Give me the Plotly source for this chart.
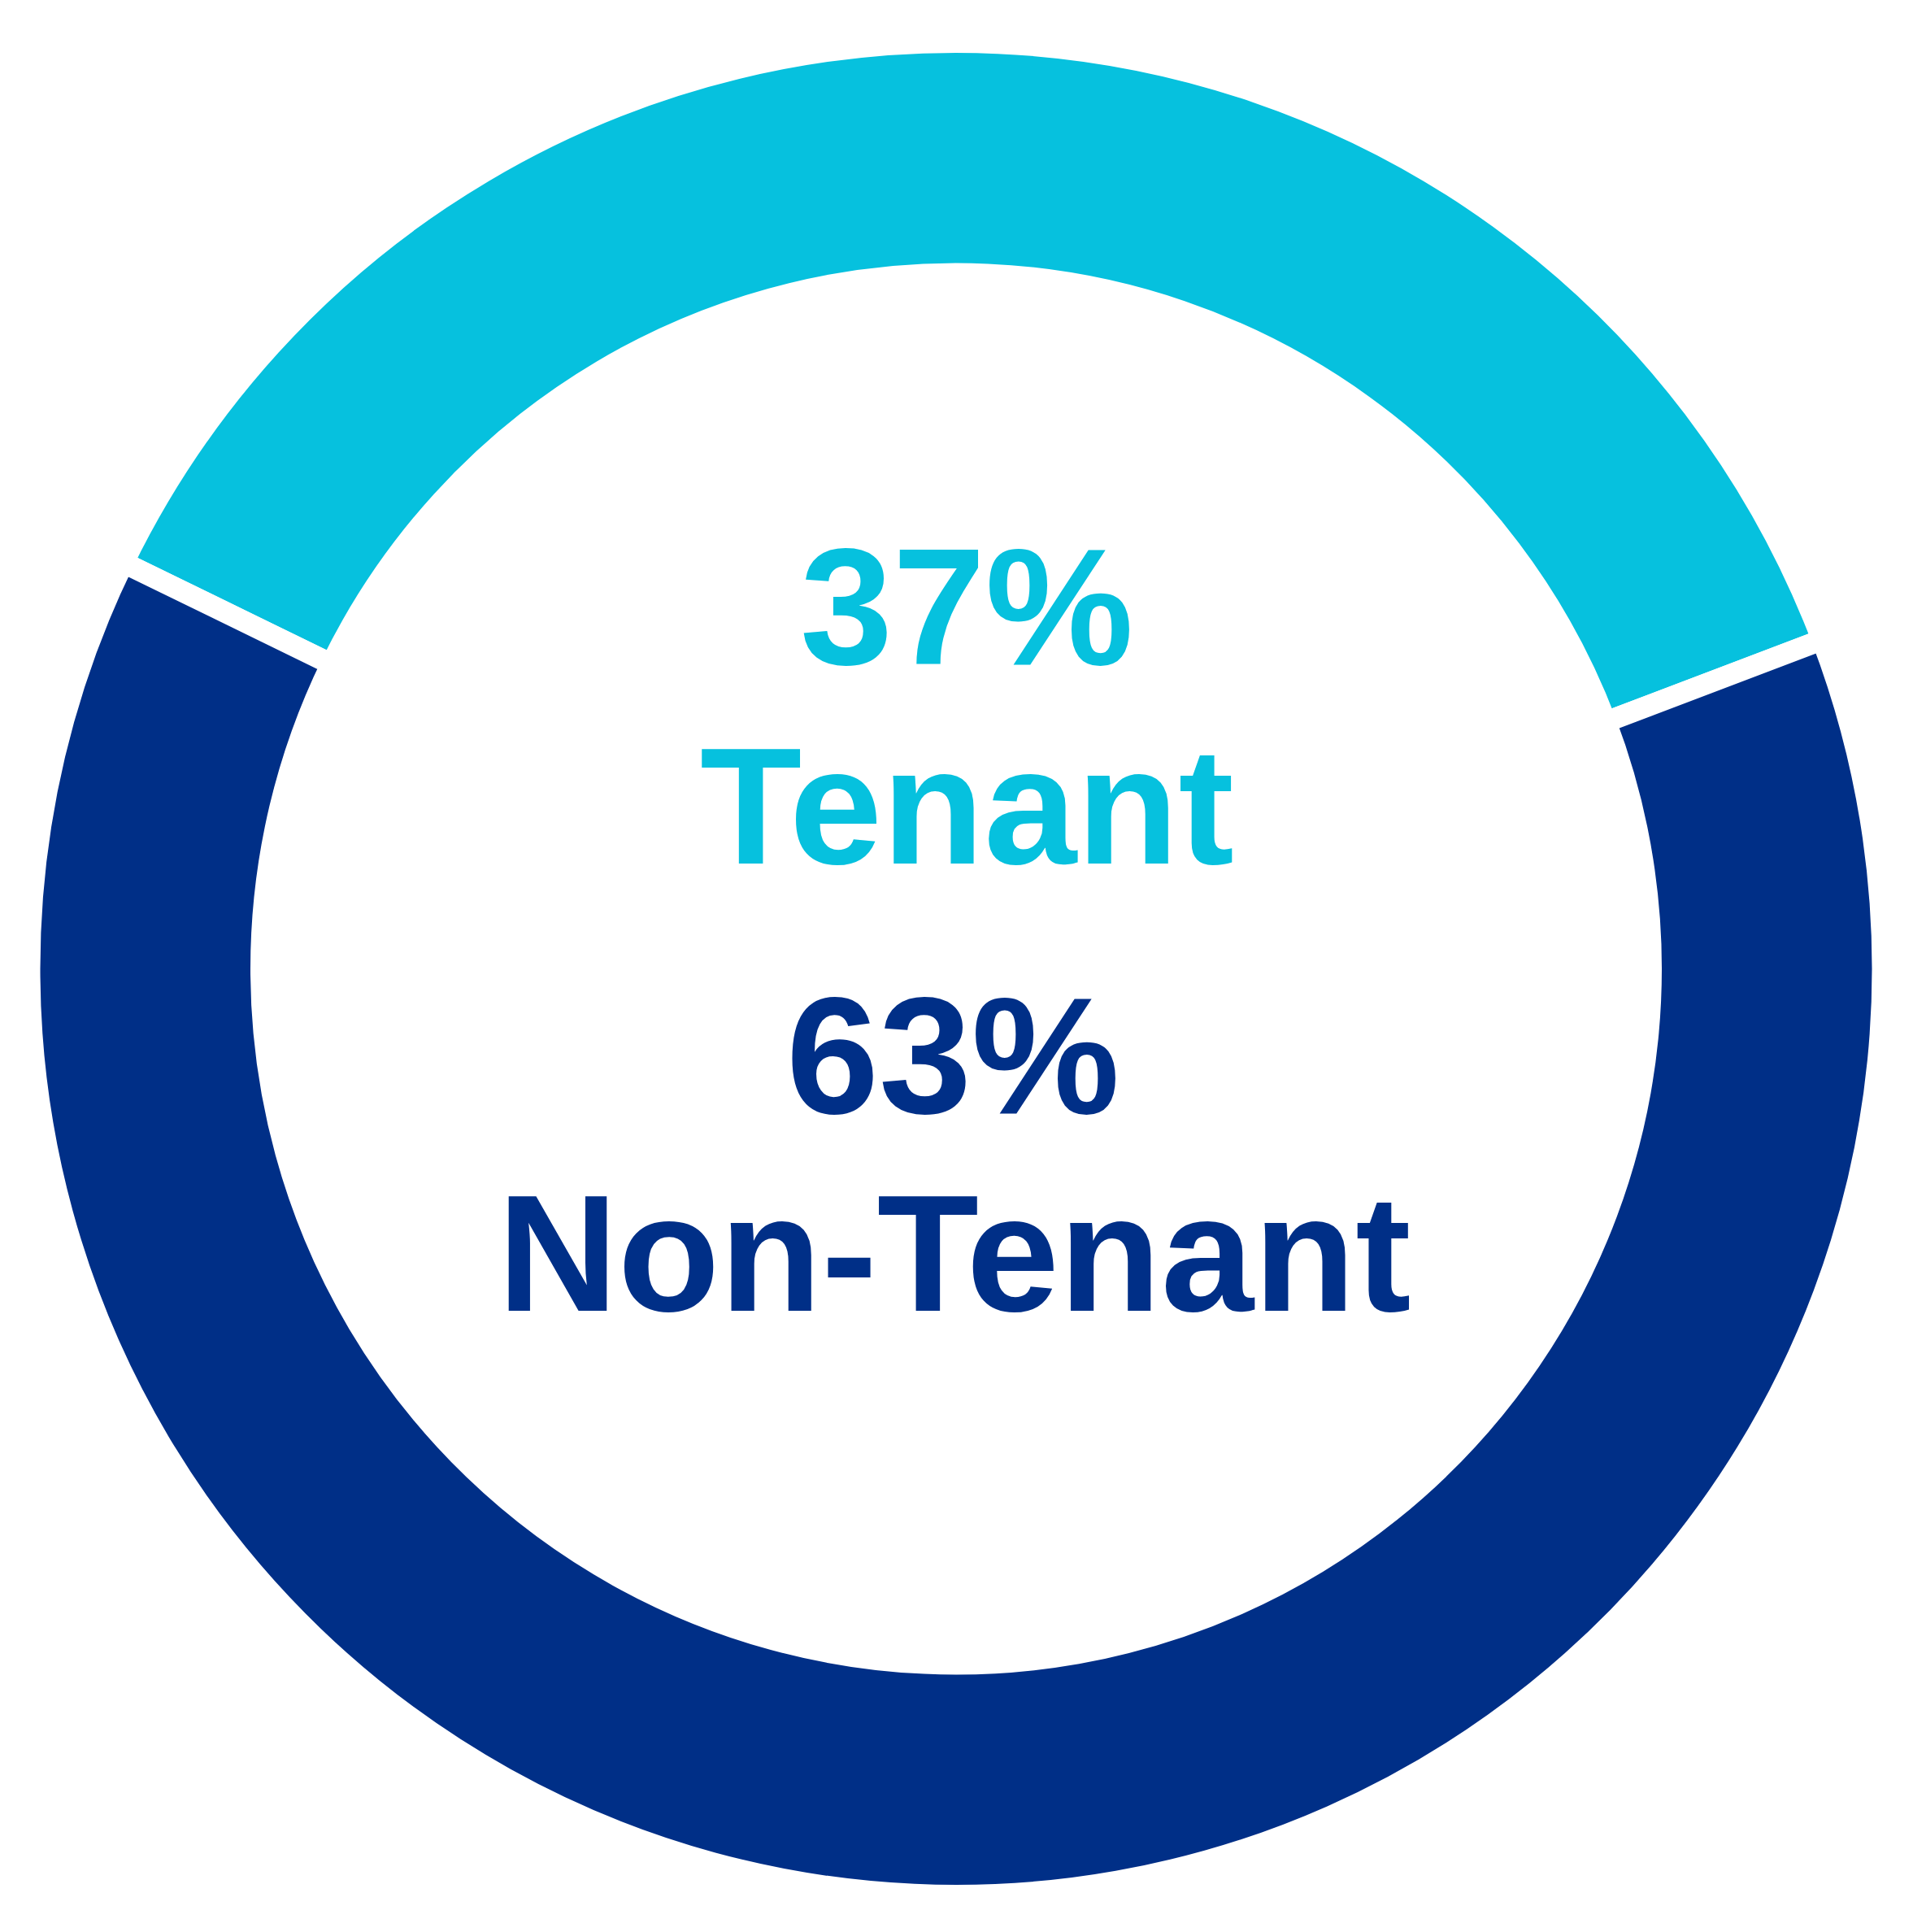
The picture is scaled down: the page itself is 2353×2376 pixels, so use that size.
import plotly.graph_objects as go

labels = ["Tenant", "Non-Tenant"]
values = [37, 63]
colors = ["#06C1DE", "#002F87"]

# page has an 8px body margin; work in plot coordinates
OFF = 8
W, H = 2353 - 2 * OFF, 2376 - 2 * OFF
cx, cy = 1176 - OFF, 1191.5 - OFF
line_w = 26
R = 1126.5 + line_w / 2
hole = (868 - line_w / 2) / R

fig = go.Figure()
fig.add_trace(go.Pie(
    labels=labels,
    values=values,
    sort=False,
    direction="clockwise",
    rotation=-64.0,
    hole=hole,
    marker=dict(colors=colors, line=dict(color="white", width=line_w)),
    textinfo="none",
    hoverinfo="skip",
    showlegend=False,
    domain=dict(x=[(cx - R) / W, (cx + R) / W],
                y=[(H - (cy + R)) / H, (H - (cy - R)) / H]),
))

font_family = "Liberation Sans, Arial, sans-serif"
fs = 205
# (text, color, x-center px, y-center px) in page coordinates
rows = [
    (f"{values[0]}%", colors[0], 1189, 745.5),
    (labels[0], colors[0], 1189.5, 990.0),
    (f"{values[1]}%", colors[1], 1172, 1297.0),
    (labels[1], colors[1], 1174, 1540.0),
]
for txt, col, px, py in rows:
    fig.add_annotation(
        text=txt, x=(px - OFF) / W, y=1 - (py - OFF) / H, xref="paper", yref="paper",
        xanchor="center", yanchor="middle", showarrow=False,
        font=dict(family=font_family, size=fs, color=col, weight="bold"),
    )

fig.update_layout(
    width=W, height=H,
    margin=dict(l=0, r=0, t=0, b=0),
    paper_bgcolor="white", plot_bgcolor="white",
)
fig.write_html("out.html")
